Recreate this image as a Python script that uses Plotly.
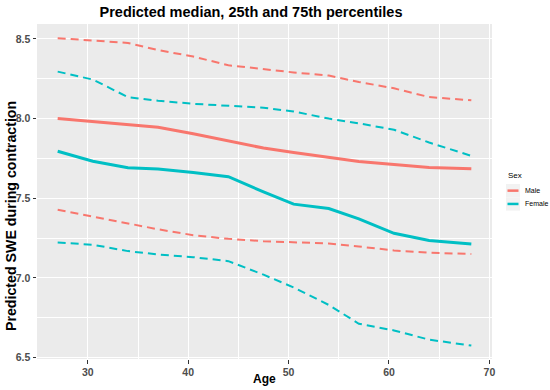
import plotly.graph_objects as go

# ---- data ----
ages = [27, 30.5, 34, 37, 40.5, 44, 47.5, 50.5, 54, 57, 60.5, 64, 68.2]

male_median = [8.00, 7.98, 7.96, 7.945, 7.905, 7.86, 7.815, 7.787, 7.755, 7.73, 7.712, 7.693, 7.685]
female_median = [7.795, 7.732, 7.692, 7.683, 7.662, 7.635, 7.54, 7.463, 7.435, 7.37, 7.28, 7.235, 7.213]
male_p75 = [8.505, 8.49, 8.475, 8.43, 8.39, 8.335, 8.31, 8.29, 8.27, 8.23, 8.19, 8.135, 8.115]
female_p75 = [8.295, 8.245, 8.135, 8.112, 8.093, 8.08, 8.068, 8.045, 8.0, 7.97, 7.93, 7.85, 7.766]
male_p25 = [7.428, 7.385, 7.34, 7.305, 7.268, 7.245, 7.23, 7.225, 7.216, 7.197, 7.172, 7.158, 7.15]
female_p25 = [7.222, 7.208, 7.168, 7.147, 7.13, 7.105, 7.02, 6.94, 6.83, 6.712, 6.67, 6.612, 6.575]

sexes = ["Male", "Female"]
colors = {"Male": "#F8766D", "Female": "#00BFC4"}

x_ticks = [30, 40, 50, 60, 70]
y_ticks = [6.5, 7.0, 7.5, 8.0, 8.5]
y_ticklabels = ["6.5", "7.0", "7.5", "8.0", "8.5"]

title_text = "Predicted median, 25th and 75th percentiles"
x_title = "Age"
y_title = "Predicted SWE during contraction"
legend_title = "Sex"

# ---- figure geometry ----
W, H = 550, 390
ML, MR, MT, MB = 37, 58, 24, 31
PW = W - ML - MR
PH = H - MT - MB


def px_x(px):
    return (px - ML) / PW


def px_y(py):
    return (H - MB - py) / PH


fig = go.Figure()

series = {
    "Male": (male_median, male_p25, male_p75),
    "Female": (female_median, female_p25, female_p75),
}

for sex in sexes:
    med, p25, p75 = series[sex]
    c = colors[sex]
    for vals in (p25, p75):
        fig.add_trace(go.Scatter(x=ages, y=vals, mode="lines", showlegend=False,
                                 line=dict(color=c, width=2, dash="8px,5px"),
                                 hoverinfo="skip"))
    fig.add_trace(go.Scatter(x=ages, y=med, mode="lines", name=sex, showlegend=False,
                             line=dict(color=c, width=3)))

tick_font = dict(family="Liberation Sans, Arial, sans-serif", size=10.5, color="#4D4D4D", weight="bold")

fig.update_xaxes(range=[24.94, 70.26], tickvals=x_ticks, ticktext=[str(v) for v in x_ticks],
                 showgrid=True, gridcolor="white", gridwidth=1.1,
                 minor=dict(dtick=5, tick0=25, showgrid=True, gridcolor="white", gridwidth=0.5, ticks=""),
                 ticks="outside", ticklen=3.5, tickcolor="#333333", tickwidth=1,
                 tickfont=tick_font, zeroline=False, showline=False)
fig.update_yaxes(range=[6.4906, 8.594], tickvals=y_ticks, ticktext=y_ticklabels,
                 showgrid=True, gridcolor="white", gridwidth=1.1,
                 minor=dict(dtick=0.25, tick0=6.25, showgrid=True, gridcolor="white", gridwidth=0.5, ticks=""),
                 ticks="outside", ticklen=3.5, tickcolor="#333333", tickwidth=1,
                 tickfont=tick_font, zeroline=False, showline=False)

annotations = [
    dict(text=f"<b>{x_title}</b>", x=px_x(264.5), y=px_y(379), xref="paper", yref="paper",
         showarrow=False, xanchor="center", yanchor="middle",
         font=dict(family="Liberation Sans, Arial, sans-serif", size=12, color="black")),
    dict(text=f"<b>{y_title}</b>", x=px_x(10.5), y=px_y(216.5), xref="paper", yref="paper",
         showarrow=False, xanchor="center", yanchor="middle", textangle=-90,
         font=dict(family="Liberation Sans, Arial, sans-serif", size=14.2, color="black")),
    dict(text=legend_title, x=px_x(506), y=px_y(175.5), xref="paper", yref="paper",
         showarrow=False, xanchor="left", yanchor="middle",
         font=dict(family="Liberation Sans, Arial, sans-serif", size=8, color="black")),
]

shapes = []
key_top = 184
key_h = 13.3
for i, sex in enumerate(sexes):
    y0 = key_top + i * key_h
    y1 = y0 + key_h
    yc = (y0 + y1) / 2
    shapes.append(dict(type="rect", xref="paper", yref="paper",
                       x0=px_x(506), x1=px_x(520), y0=px_y(y1), y1=px_y(y0),
                       fillcolor="#F2F2F2", line=dict(width=0), layer="below"))
    shapes.append(dict(type="line", xref="paper", yref="paper",
                       x0=px_x(507.5), x1=px_x(518.5), y0=px_y(yc), y1=px_y(yc),
                       line=dict(color=colors[sex], width=2.5)))
    annotations.append(dict(text=sex, x=px_x(523), y=px_y(yc), xref="paper", yref="paper",
                            showarrow=False, xanchor="left", yanchor="middle",
                            font=dict(family="Liberation Sans, Arial, sans-serif", size=7, color="black")))

fig.update_layout(
    width=W, height=H,
    margin=dict(l=ML, r=MR, t=MT, b=MB, pad=0),
    paper_bgcolor="white", plot_bgcolor="#EBEBEB",
    title=dict(text=f"<b>{title_text}</b>", x=251 / W, xref="container", xanchor="center",
               y=1 - 12 / H, yref="container", yanchor="middle",
               font=dict(family="Liberation Sans, Arial, sans-serif", size=14.5, color="black")),
    annotations=annotations, shapes=shapes,
    showlegend=False,
)

fig.write_html("out.html", config={"displayModeBar": False},
               post_script="document.body.style.margin='0px';document.body.style.overflow='hidden';")
